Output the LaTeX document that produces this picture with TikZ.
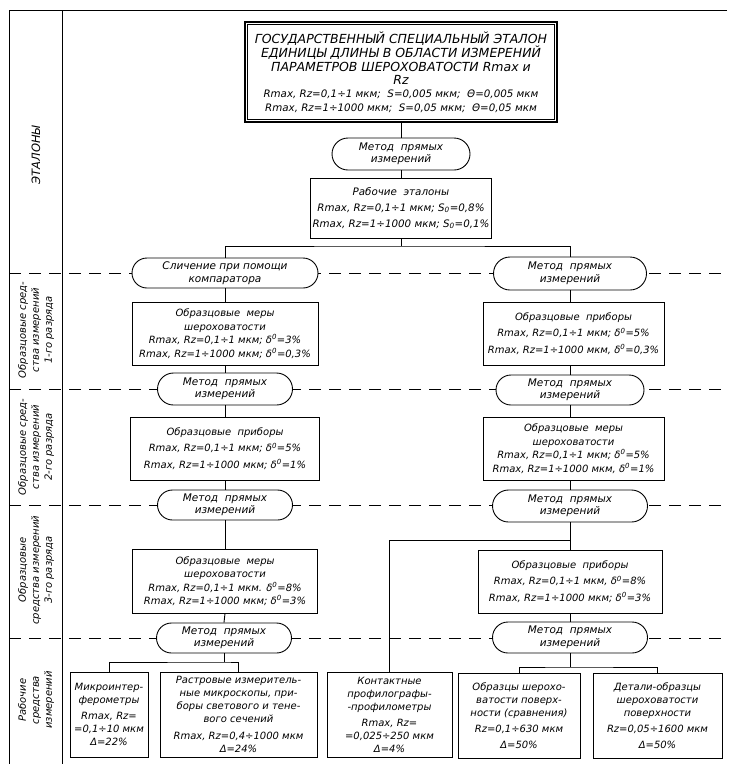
\documentclass[tikz,border=0pt]{standalone}
\usepackage{fontspec}
\setmainfont{DejaVu Sans}[ItalicFont={DejaVu Sans Oblique}]
\usetikzlibrary{shapes.misc}
\tikzset{
  box/.style={draw, line width=0.9pt, fill=white, inner sep=0pt, align=center,
    font=\itshape\fontsize{10}{13.5}\selectfont},
  lowbox/.style={box, font=\itshape\fontsize{10}{13}\selectfont},
  oval/.style={draw, line width=0.9pt, fill=white, rounded rectangle, inner sep=0pt,
    align=center, font=\itshape\fontsize{10.5}{12.5}\selectfont},
  conn/.style={line width=0.9pt},
  sepline/.style={line width=1pt, dash pattern=on 12pt off 8pt},
  frameline/.style={line width=1pt},
  side/.style={rotate=90, align=center, inner sep=0pt, font=\itshape\fontsize{10}{13}\selectfont},
}
\begin{document}
\begin{tikzpicture}[x=1pt,y=-1pt]
\useasboundingbox[fill=white] (0,0) rectangle (729,764);
% frame
\draw[frameline] (727,10) -- (9,10) -- (9,764);
\draw[frameline] (62,10) -- (62,764);
% level separators
\draw[sepline] (9,273) -- (729,273);
\draw[sepline] (9,389) -- (729,389);
\draw[sepline] (9,505) -- (729,505);
\draw[sepline] (9,638) -- (729,638);
% side labels
\node[side, font=\itshape\fontsize{11.5}{13}\selectfont] (s0) at (36,155) {ЭТАЛОНЫ};
\node[side] (s1) at (36,330) {Образцовые сред-\\ства измерений\\1-го разряда};
\node[side] (s2) at (36,447) {Образцовые сред-\\ства измерений\\2-го разряда};
\node[side] (s3) at (36,570) {Образцовые\\средства измерений\\3-го разряда};
\node[side] (s4) at (36,700) {Рабочие\\средства\\измерений};
% top
\node[box, line width=1.6pt, minimum width=312pt, minimum height=100pt,
  font=\itshape\fontsize{12.5}{13.4}\selectfont] (top) at (401,72)
  {ГОСУДАРСТВЕННЫЙ СПЕЦИАЛЬНЫЙ ЭТАЛОН\\ЕДИНИЦЫ ДЛИНЫ В ОБЛАСТИ ИЗМЕРЕНИЙ\\ПАРАМЕТРОВ ШЕРОХОВАТОСТИ Rmax и\\Rz\\
  {\fontsize{10.3}{13.4}\selectfont Rmax, Rz=0,1÷1 мкм;\ \ S=0,005 мкм;\ \ Θ=0,005 мкм}\\
  {\fontsize{10.3}{13.4}\selectfont Rmax, Rz=1÷1000 мкм;\ \ S=0,05 мкм;\ \ Θ=0,05 мкм}};
\draw[line width=0.6pt] ([shift={(3.5,3.5)}]top.north west) rectangle ([shift={(-3.5,-3.5)}]top.south east);
\node[oval, minimum width=138pt, minimum height=32pt] (o1) at (401,154) {Метод\ \ прямых\\измерений};
\node[box, minimum width=181pt, minimum height=60pt, font=\itshape\fontsize{10.3}{16}\selectfont] (re) at (401,208)
  {Рабочие\ \ эталоны\\Rmax, Rz=0,1÷1 мкм; S\textsubscript{0}=0,8\%\\Rmax, Rz=1÷1000 мкм; S\textsubscript{0}=0,1\%};
\coordinate (br) at (401,246);
% left chain
\node[oval, minimum width=186pt, minimum height=30pt] (oL1) at (225,273) {Сличение при помощи\\компаратора};
\node[box, minimum width=186pt, minimum height=63pt] (bL1) at (225,333.5)
  {Образцовые\ \ меры\\шероховатости\\Rmax, Rz=0,1÷1 мкм; δ\textsuperscript{0}=3\%\\Rmax, Rz=1÷1000 мкм; δ\textsuperscript{0}=0,3\%};
\node[oval, minimum width=135pt, minimum height=32pt] (oL2) at (225,389) {Метод\ \ прямых\\измерений};
\node[box, minimum width=189pt, minimum height=63pt] (bL2) at (225,448.5)
  {Образцовые\ \ приборы\\[3pt]Rmax, Rz=0,1÷1 мкм; δ\textsuperscript{0}=5\%\\[3pt]Rmax, Rz=1÷1000 мкм; δ\textsuperscript{0}=1\%};
\node[oval, minimum width=135pt, minimum height=30pt] (oL3) at (225,505) {Метод\ \ прямых\\измерений};
\node[box, minimum width=185pt, minimum height=64pt] (bL3) at (225,581)
  {Образцовые\ \ меры\\шероховатости\\Rmax, Rz=0,1÷1 мкм. δ\textsuperscript{0}=8\%\\Rmax, Rz=1÷1000 мкм; δ\textsuperscript{0}=3\%};
\node[oval, minimum width=135pt, minimum height=30pt] (oL4) at (224,638) {Метод\ \ прямых\\измерений};
\coordinate (jL) at (224,662);
\node[lowbox, minimum width=78pt, minimum height=85pt] (bMi) at (109,714.5)
  {Микроинтер-\\ферометры\\[3pt]Rmax, Rz=\\=0,1÷10 мкм\\Δ=22\%};
\node[lowbox, minimum width=157pt, minimum height=85pt] (bRa) at (238.5,714.5)
  {Растровые измеритель-\\ные микроскопы, при-\\боры светового и тене-\\вого сечений\\[4pt]Rmax, Rz=0,4÷1000 мкм\\Δ=24\%};
% right chain
\node[oval, minimum width=153pt, minimum height=33pt] (oR1) at (570,273.5) {Метод\ \ прямых\\измерений};
\node[box, minimum width=181pt, minimum height=63pt] (bR1) at (573.5,333.5)
  {Образцовые\ \ приборы\\[3pt]Rmax, Rz=0,1÷1 мкм; δ\textsuperscript{0}=5\%\\[3pt]Rmax, Rz=1÷1000 мкм, δ\textsuperscript{0}=0,3\%};
\node[oval, minimum width=148pt, minimum height=30pt] (oR2) at (570,390) {Метод\ \ прямых\\измерений};
\node[box, minimum width=181pt, minimum height=63pt] (bR2) at (573.5,448.5)
  {Образцовые\ \ меры\\шероховатости\\Rmax, Rz=0,1÷1 мкм; δ\textsuperscript{0}=5\%\\Rmax, Rz=1÷1000 мкм, δ\textsuperscript{0}=1\%};
\node[oval, minimum width=155pt, minimum height=32pt] (oR3) at (570,506) {Метод\ \ прямых\\измерений};
\coordinate (jR) at (570,540);
\node[box, minimum width=184pt, minimum height=63pt] (bR3) at (570,581.5)
  {Образцовые\ \ приборы\\[3pt]Rmax, Rz=0,1÷1 мкм, δ\textsuperscript{0}=8\%\\[3pt]Rmax, Rz=1÷1000 мкм; δ\textsuperscript{0}=3\%};
\node[oval, minimum width=155pt, minimum height=31pt] (oR4) at (570,637.5) {Метод\ \ прямых\\измерений};
\coordinate (jR2) at (570,667);
\node[lowbox, minimum width=125pt, minimum height=85pt] (bKo) at (389.5,714.5)
  {Контактные\\профилографы-\\-профилометры\\[3pt]Rmax, Rz=\\=0,025÷250 мкм\\Δ=4\%};
\node[lowbox, minimum width=122pt, minimum height=85pt] (bOb) at (519,715.5)
  {Образцы шерохо-\\ватости поверх-\\ности (сравнения)\\[3pt]Rz=0,1÷630 мкм\\[3pt]Δ=50\%};
\node[lowbox, minimum width=129pt, minimum height=85pt] (bDe) at (657.5,715.5)
  {Детали-образцы\\шероховатости\\поверхности\\[3pt]Rz=0,05÷1600 мкм\\[3pt]Δ=50\%};
% connectors
\draw[conn] (top.south) -- (o1.north);
\draw[conn] (o1.south) -- (re.north);
\draw[conn] (re.south) -- (br);
\draw[conn] (oL1.north) |- (br) -| (oR1.north);
\draw[conn] (oL1.south) -- (bL1.north);
\draw[conn] (bL1.south) -- (oL2.north);
\draw[conn] (oL2.south) -- (bL2.north);
\draw[conn] (bL2.south) -- (oL3.north);
\draw[conn] (oL3.south) -- (bL3.north);
\draw[conn] (bL3.south) -- (oL4.north);
\draw[conn] (oL4.south) -- (jL);
\draw[conn] (bMi.north) |- (jL) -| (bRa.north);
\draw[conn] (oR1.south) -- (bR1.north -| oR1.south);
\draw[conn] (bR1.south -| oR2.north) -- (oR2.north);
\draw[conn] (oR2.south) -- (bR2.north -| oR2.south);
\draw[conn] (bR2.south -| oR3.north) -- (oR3.north);
\draw[conn] (oR3.south) -- (bR3.north);
\draw[conn] (jR) -| (bKo.north);
\draw[conn] (bR3.south) -- (oR4.north);
\draw[conn] (oR4.south) -- (jR2);
\draw[conn] (bOb.north) |- (jR2) -| (bDe.north);
\end{tikzpicture}
\end{document}
